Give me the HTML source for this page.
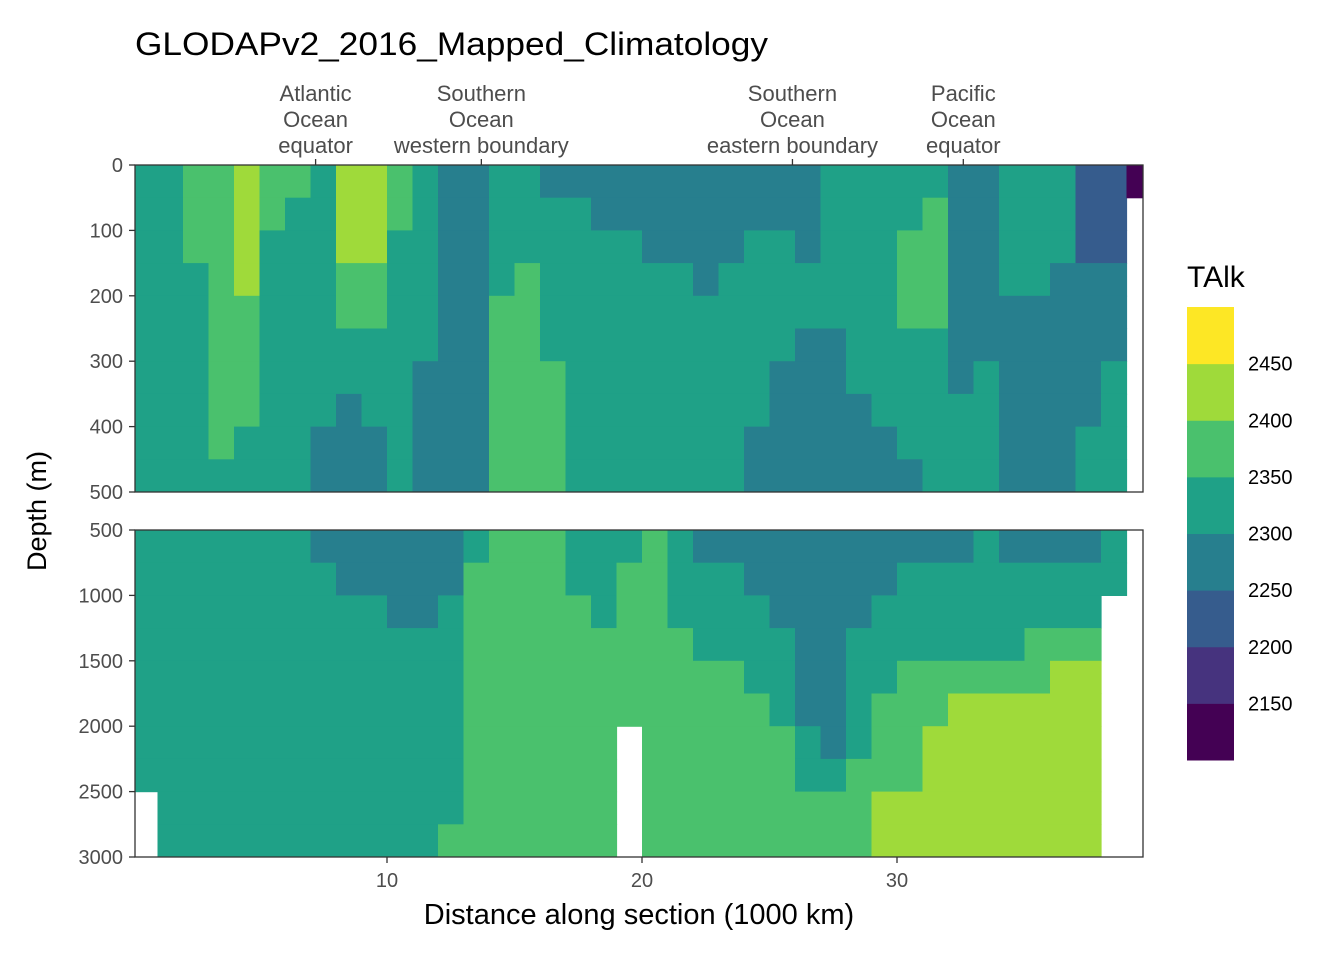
<!DOCTYPE html>
<html><head><meta charset="utf-8">
<style>
html,body{margin:0;padding:0;background:#fff;}
svg{display:block;font-family:"Liberation Sans",sans-serif;}
</style></head>
<body>
<svg id="chart" width="1344" height="960" viewBox="0 0 1344 960" xmlns="http://www.w3.org/2000/svg">
<defs>
<clipPath id="clipTop"><rect x="135" y="165" width="1008" height="327"/></clipPath>
<clipPath id="clipBot"><rect x="135" y="530" width="1008" height="327"/></clipPath>
</defs>
<text x="135" y="55" font-size="32" fill="#000" textLength="633" lengthAdjust="spacingAndGlyphs">GLODAPv2_2016_Mapped_Climatology</text>
<g id="cellsTop" clip-path="url(#clipTop)"></g>
<g id="cellsBot" clip-path="url(#clipBot)"></g>
<rect x="135" y="165" width="1008" height="327" fill="none" stroke="#333" stroke-width="1.3"/>
<rect x="135" y="530" width="1008" height="327" fill="none" stroke="#333" stroke-width="1.3"/>
<g id="axes"></g>
<text x="639" y="924" font-size="29" text-anchor="middle" fill="#000">Distance along section (1000 km)</text>
<text transform="translate(46,511) rotate(-90)" font-size="27" text-anchor="middle" fill="#000">Depth (m)</text>
<text x="1187" y="287" font-size="30" fill="#000">TAlk</text>
<g id="legend"></g>
</svg>
<script>
const NS = "http://www.w3.org/2000/svg";
// Distance columns (1000 km, left edge of each column)
const distances = [0,1,2,3,4,5,6,7,8,9,10,11,12,13,14,15,16,17,18,19,20,21,22,23,24,25,26,27,28,29,30,31,32,33,34,35,36,37,38,39];
const topDepths = [25,75,125,175,225,275,325,375,425,475];
const botDepths = [625,875,1125,1375,1625,1875,2125,2375,2625,2875];
const N = null;
// TAlk values, one array per distance column, one value per depth row
const topValues = [
[2325,2325,2325,2325,2325,2325,2325,2325,2325,2325],
[2325,2325,2325,2325,2325,2325,2325,2325,2325,2325],
[2375,2375,2375,2325,2325,2325,2325,2325,2325,2325],
[2375,2375,2375,2375,2375,2375,2375,2375,2375,2325],
[2425,2425,2425,2425,2375,2375,2375,2375,2325,2325],
[2375,2375,2325,2325,2325,2325,2325,2325,2325,2325],
[2375,2325,2325,2325,2325,2325,2325,2325,2325,2325],
[2325,2325,2325,2325,2325,2325,2325,2325,2275,2275],
[2425,2425,2425,2375,2375,2325,2325,2275,2275,2275],
[2425,2425,2425,2375,2375,2325,2325,2325,2275,2275],
[2375,2375,2325,2325,2325,2325,2325,2325,2325,2325],
[2325,2325,2325,2325,2325,2325,2275,2275,2275,2275],
[2275,2275,2275,2275,2275,2275,2275,2275,2275,2275],
[2275,2275,2275,2275,2275,2275,2275,2275,2275,2275],
[2325,2325,2325,2325,2375,2375,2375,2375,2375,2375],
[2325,2325,2325,2375,2375,2375,2375,2375,2375,2375],
[2275,2325,2325,2325,2325,2325,2375,2375,2375,2375],
[2275,2325,2325,2325,2325,2325,2325,2325,2325,2325],
[2275,2275,2325,2325,2325,2325,2325,2325,2325,2325],
[2275,2275,2325,2325,2325,2325,2325,2325,2325,2325],
[2275,2275,2275,2325,2325,2325,2325,2325,2325,2325],
[2275,2275,2275,2325,2325,2325,2325,2325,2325,2325],
[2275,2275,2275,2275,2325,2325,2325,2325,2325,2325],
[2275,2275,2275,2325,2325,2325,2325,2325,2325,2325],
[2275,2275,2325,2325,2325,2325,2325,2325,2275,2275],
[2275,2275,2325,2325,2325,2325,2275,2275,2275,2275],
[2275,2275,2275,2325,2325,2275,2275,2275,2275,2275],
[2325,2325,2325,2325,2325,2275,2275,2275,2275,2275],
[2325,2325,2325,2325,2325,2325,2325,2275,2275,2275],
[2325,2325,2325,2325,2325,2325,2325,2325,2275,2275],
[2325,2325,2375,2375,2375,2325,2325,2325,2325,2275],
[2325,2375,2375,2375,2375,2325,2325,2325,2325,2325],
[2275,2275,2275,2275,2275,2275,2275,2325,2325,2325],
[2275,2275,2275,2275,2275,2275,2325,2325,2325,2325],
[2325,2325,2325,2325,2275,2275,2275,2275,2275,2275],
[2325,2325,2325,2325,2275,2275,2275,2275,2275,2275],
[2325,2325,2325,2275,2275,2275,2275,2275,2275,2275],
[2225,2225,2225,2275,2275,2275,2275,2275,2325,2325],
[2225,2225,2225,2275,2275,2275,2325,2325,2325,2325],
[2125,N,N,N,N,N,N,N,N,N]
];
const botValues = [
[2325,2325,2325,2325,2325,2325,2325,2325,N,N],
[2325,2325,2325,2325,2325,2325,2325,2325,2325,2325],
[2325,2325,2325,2325,2325,2325,2325,2325,2325,2325],
[2325,2325,2325,2325,2325,2325,2325,2325,2325,2325],
[2325,2325,2325,2325,2325,2325,2325,2325,2325,2325],
[2325,2325,2325,2325,2325,2325,2325,2325,2325,2325],
[2325,2325,2325,2325,2325,2325,2325,2325,2325,2325],
[2275,2325,2325,2325,2325,2325,2325,2325,2325,2325],
[2275,2275,2325,2325,2325,2325,2325,2325,2325,2325],
[2275,2275,2325,2325,2325,2325,2325,2325,2325,2325],
[2275,2275,2275,2325,2325,2325,2325,2325,2325,2325],
[2275,2275,2275,2325,2325,2325,2325,2325,2325,2325],
[2275,2275,2325,2325,2325,2325,2325,2325,2325,2375],
[2325,2375,2375,2375,2375,2375,2375,2375,2375,2375],
[2375,2375,2375,2375,2375,2375,2375,2375,2375,2375],
[2375,2375,2375,2375,2375,2375,2375,2375,2375,2375],
[2375,2375,2375,2375,2375,2375,2375,2375,2375,2375],
[2325,2325,2375,2375,2375,2375,2375,2375,2375,2375],
[2325,2325,2325,2375,2375,2375,2375,2375,2375,2375],
[2325,2375,2375,2375,2375,2375,N,N,N,N],
[2375,2375,2375,2375,2375,2375,2375,2375,2375,2375],
[2325,2325,2325,2375,2375,2375,2375,2375,2375,2375],
[2275,2325,2325,2325,2375,2375,2375,2375,2375,2375],
[2275,2325,2325,2325,2375,2375,2375,2375,2375,2375],
[2275,2275,2325,2325,2325,2375,2375,2375,2375,2375],
[2275,2275,2275,2325,2325,2325,2375,2375,2375,2375],
[2275,2275,2275,2275,2275,2275,2325,2325,2375,2375],
[2275,2275,2275,2275,2275,2275,2275,2325,2375,2375],
[2275,2275,2275,2325,2325,2325,2325,2375,2375,2375],
[2275,2275,2325,2325,2325,2375,2375,2375,2425,2425],
[2275,2325,2325,2325,2375,2375,2375,2375,2425,2425],
[2275,2325,2325,2325,2375,2375,2425,2425,2425,2425],
[2275,2325,2325,2325,2375,2425,2425,2425,2425,2425],
[2325,2325,2325,2325,2375,2425,2425,2425,2425,2425],
[2275,2325,2325,2325,2375,2425,2425,2425,2425,2425],
[2275,2325,2325,2375,2375,2425,2425,2425,2425,2425],
[2275,2325,2325,2375,2425,2425,2425,2425,2425,2425],
[2275,2325,2325,2375,2425,2425,2425,2425,2425,2425],
[2325,2325,N,N,N,N,N,N,N,N],
[N,N,N,N,N,N,N,N,N,N]
];
const breaks = [2100,2150,2200,2250,2300,2350,2400,2450,2500];
const binColors = ["#440154","#46337E","#365C8D","#277F8E","#1FA187","#4AC16D","#9FDA3A","#FDE725"];
const xTicks = [10,20,30];
const topYTicks = [0,100,200,300,400,500];
const botYTicks = [500,1000,1500,2000,2500,3000];
const legendLabels = [2150,2200,2250,2300,2350,2400,2450];
const regionNames = [["Atlantic","Ocean","equator"],["Southern","Ocean","western boundary"],["Southern","Ocean","eastern boundary"],["Pacific","Ocean","equator"]];
const regionDist = [7.2,13.7,25.9,32.6];

const xScale = d => 132 + 25.5 * d;
const yTop = d => 165 + (d / 500) * 327;
const yBot = d => 530 + ((d - 500) / 2500) * 327;
const colorOf = v => { for (let i = 0; i < binColors.length; i++) if (v < breaks[i+1]) return binColors[i]; return binColors[binColors.length-1]; };

function drawCells(gid, values, depths, yf, step) {
  const g = document.getElementById(gid);
  values.forEach((col, ci) => {
    col.forEach((v, ri) => {
      if (v === null) return;
      const d0 = depths[ri] - step/2, d1 = depths[ri] + step/2;
      const r = document.createElementNS(NS, "rect");
      r.setAttribute("x", xScale(distances[ci]));
      r.setAttribute("y", yf(d0));
      r.setAttribute("width", xScale(distances[ci] + 1) - xScale(distances[ci]) + 0.6);
      r.setAttribute("height", yf(d1) - yf(d0) + 0.6);
      r.setAttribute("fill", colorOf(v));
      
      
      g.appendChild(r);
    });
  });
}
drawCells("cellsTop", topValues, topDepths, yTop, 50);
drawCells("cellsBot", botValues, botDepths, yBot, 250);

const axes = document.getElementById("axes");
function el(tag, attrs, text) {
  const e = document.createElementNS(NS, tag);
  for (const k in attrs) e.setAttribute(k, attrs[k]);
  if (text !== undefined) e.textContent = text;
  axes.appendChild(e);
  return e;
}
topYTicks.forEach(t => {
  const y = yTop(t);
  const ln = el("line", {x1:129, x2:135, y1:y, y2:y, stroke:"#333", "stroke-width":1.3});
  
  
  const tx = el("text", {x:123, y:y+7, "font-size":20, "text-anchor":"end", fill:"#4D4D4D"}, t);
  
  
});
botYTicks.forEach(t => {
  const y = yBot(t);
  const ln = el("line", {x1:129, x2:135, y1:y, y2:y, stroke:"#333", "stroke-width":1.3});
  
  
  const tx = el("text", {x:123, y:y+7, "font-size":20, "text-anchor":"end", fill:"#4D4D4D"}, t);
  
  
});
xTicks.forEach(t => {
  const x = xScale(t);
  const ln = el("line", {x1:x, x2:x, y1:857, y2:863, stroke:"#333", "stroke-width":1.3});
  
  
  const tx = el("text", {x:x, y:887, "font-size":20, "text-anchor":"middle", fill:"#4D4D4D"}, t);
  
  
});
regionDist.forEach((d, i) => {
  const x = xScale(d);
  const ln = el("line", {x1:x, x2:x, y1:159, y2:165, stroke:"#333", "stroke-width":1.3});
  
  
  regionNames[i].forEach((s, j) => {
    const tx = el("text", {x:x, y:101 + j*26, "font-size":22, "text-anchor":"middle", fill:"#4D4D4D"}, s);
    
    
  });
});

const leg = document.getElementById("legend");
const ly = v => 307 + (2500 - v) / 400 * 453;
binColors.forEach((c, i) => {
  const r = document.createElementNS(NS, "rect");
  r.setAttribute("x", 1187);
  r.setAttribute("y", ly(breaks[i+1]));
  r.setAttribute("width", 47);
  r.setAttribute("height", ly(breaks[i]) - ly(breaks[i+1]) + 0.5);
  r.setAttribute("fill", c);
  
  
  leg.appendChild(r);
});
legendLabels.forEach(v => {
  const t = document.createElementNS(NS, "text");
  t.setAttribute("x", 1248);
  t.setAttribute("y", ly(v) + 7);
  t.setAttribute("font-size", 20);
  t.setAttribute("fill", "#000");
  t.textContent = v;
  
  
  leg.appendChild(t);
});
</script>
</body></html>
